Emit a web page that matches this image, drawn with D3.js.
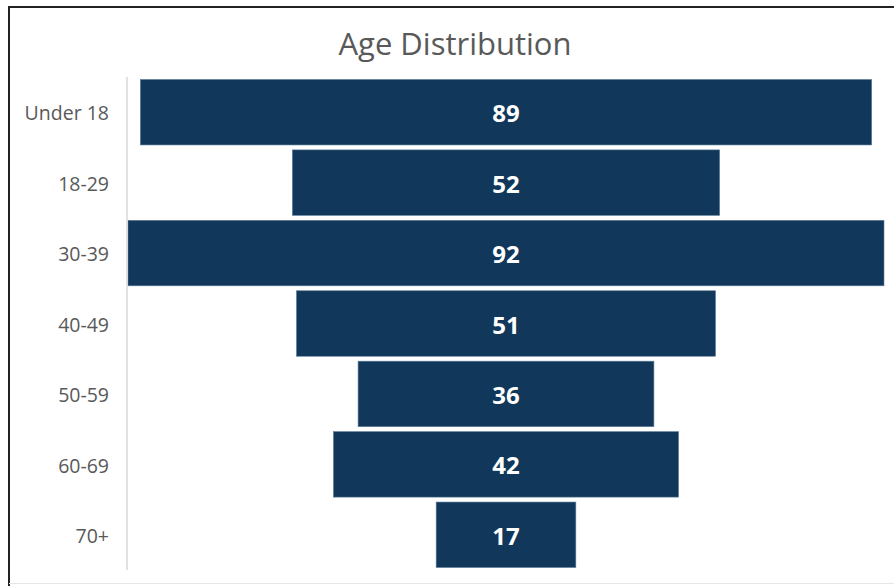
<!DOCTYPE html>
<html>
<head>
<meta charset="utf-8">
<script src="https://cdn.jsdelivr.net/npm/d3@7"></script>
<style>
  body { margin: 0; background: #fff; }
  svg { display: block; }
</style>
</head>
<body>
<svg id="chart" width="894" height="586"></svg>
<script>
// Age groups and counts
var categories = ["Under 18", "18-29", "30-39", "40-49", "50-59", "60-69", "70+"];
var counts = [89, 52, 92, 51, 36, 42, 17];
var title = "Age Distribution";

var svg = d3.select("svg#chart");

// frame round the chart
svg.append("path")
    .attr("d", "M9,587 V7 H894")
    .attr("fill", "none")
    .attr("stroke", "#222")
    .attr("stroke-width", 2);
svg.append("line")
    .attr("x1", 9).attr("x2", 894).attr("y1", 583.5).attr("y2", 583.5)
    .attr("stroke", "#e6e6e6").attr("stroke-width", 1);

var margin = {top: 77, bottom: 16, left: 127, right: 9},
    width = 894 - margin.left - margin.right,
    height = 586 - margin.top - margin.bottom;

var g = svg.append("g")
    .attr("transform", "translate(" + margin.left + "," + margin.top + ")");

// funnel: bars centred, width proportional to value
var x = d3.scaleLinear()
    .domain([0, d3.max(counts)])
    .range([0, 756]);
var cx = 379;

var y = d3.scaleBand()
    .domain(categories)
    .range([0, 493])
    .paddingInner(0.07)
    .paddingOuter(0.035);

var data = categories.map(function(c, i) { return {name: c, value: counts[i]}; });

g.selectAll("rect.bar")
    .data(data)
  .enter().append("rect")
    .attr("class", "bar")
    .attr("x", function(d) { return cx - x(d.value) / 2; })
    .attr("y", function(d) { return y(d.name); })
    .attr("width", function(d) { return x(d.value); })
    .attr("height", y.bandwidth())
    .style("fill", "#11375a")
    .style("stroke", "#5f7f9b")
    .style("stroke-width", 0.6);

g.selectAll("text.val")
    .data(data)
  .enter().append("text")
    .attr("class", "val")
    .attr("x", cx)
    .attr("y", function(d) { return y(d.name) + y.bandwidth() / 2; })
    .attr("dy", "0.42em")
    .attr("text-anchor", "middle")
    .attr("font-family", "'Open Sans', sans-serif")
    .attr("font-weight", "bold")
    .attr("font-size", "24px")
    .attr("fill", "#fff")
    .text(function(d) { return d.value; });

// category axis
var yAxis = g.append("g")
    .call(d3.axisLeft(y).tickSize(0).tickPadding(18));
yAxis.select(".domain")
    .attr("stroke", "#d9d9d9")
    .attr("stroke-width", 1.5)
    .attr("d", "M0,0V493");
yAxis.selectAll("text")
    .attr("dy", "0.42em")
    .attr("font-family", "'Open Sans', sans-serif")
    .attr("font-size", "19.5px")
    .attr("fill", "#595959");

svg.append("text")
    .attr("x", 455)
    .attr("y", 55)
    .attr("text-anchor", "middle")
    .attr("font-family", "'Open Sans', sans-serif")
    .attr("font-size", "31px")
    .attr("fill", "#595959")
    .text(title);
</script>
</body>
</html>
